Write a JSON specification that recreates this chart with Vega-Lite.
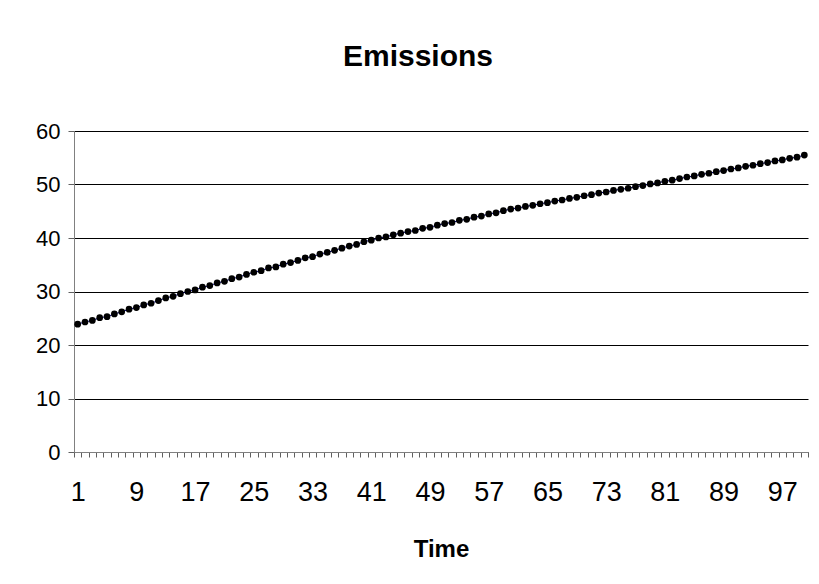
{
  "$schema": "https://vega.github.io/schema/vega-lite/v6.json",
  "width": 734,
  "height": 321,
  "autosize": {"type": "none"},
  "padding": {"left": 74, "top": 131, "right": 11, "bottom": 132},
  "background": "white",
  "title": {
    "text": "Emissions",
    "font": "Liberation Sans",
    "fontSize": 30,
    "fontWeight": "bold",
    "color": "black",
    "anchor": "middle",
    "baseline": "alphabetic",
    "offset": 24,
    "dx": -23
  },
  "config": {
    "view": {"stroke": null},
    "axis": {"labelFont": "Liberation Sans", "titleFont": "Liberation Sans", "labelColor": "black", "titleColor": "black"}
  },
  "data": {
    "values": [
      {"t": 1, "v": 23.9}, {"t": 2, "v": 24.3}, {"t": 3, "v": 24.6}, {"t": 4, "v": 25.1}, {"t": 5, "v": 25.3},
      {"t": 6, "v": 25.8}, {"t": 7, "v": 26.2}, {"t": 8, "v": 26.7}, {"t": 9, "v": 27.0}, {"t": 10, "v": 27.5},
      {"t": 11, "v": 27.8}, {"t": 12, "v": 28.3}, {"t": 13, "v": 28.8}, {"t": 14, "v": 29.1}, {"t": 15, "v": 29.6},
      {"t": 16, "v": 30.0}, {"t": 17, "v": 30.3}, {"t": 18, "v": 30.8}, {"t": 19, "v": 31.1}, {"t": 20, "v": 31.6},
      {"t": 21, "v": 31.9}, {"t": 22, "v": 32.4}, {"t": 23, "v": 32.7}, {"t": 24, "v": 33.2}, {"t": 25, "v": 33.6},
      {"t": 26, "v": 33.9}, {"t": 27, "v": 34.4}, {"t": 28, "v": 34.6}, {"t": 29, "v": 35.1}, {"t": 30, "v": 35.4},
      {"t": 31, "v": 35.8}, {"t": 32, "v": 36.3}, {"t": 33, "v": 36.5}, {"t": 34, "v": 37.0}, {"t": 35, "v": 37.3},
      {"t": 36, "v": 37.7}, {"t": 37, "v": 38.1}, {"t": 38, "v": 38.5}, {"t": 39, "v": 38.8}, {"t": 40, "v": 39.3},
      {"t": 41, "v": 39.6}, {"t": 42, "v": 40.0}, {"t": 43, "v": 40.2}, {"t": 44, "v": 40.6}, {"t": 45, "v": 40.9},
      {"t": 46, "v": 41.2}, {"t": 47, "v": 41.4}, {"t": 48, "v": 41.8}, {"t": 49, "v": 42.0}, {"t": 50, "v": 42.4},
      {"t": 51, "v": 42.7}, {"t": 52, "v": 42.9}, {"t": 53, "v": 43.3}, {"t": 54, "v": 43.5}, {"t": 55, "v": 43.9},
      {"t": 56, "v": 44.1}, {"t": 57, "v": 44.5}, {"t": 58, "v": 44.7}, {"t": 59, "v": 45.1}, {"t": 60, "v": 45.4},
      {"t": 61, "v": 45.6}, {"t": 62, "v": 45.9}, {"t": 63, "v": 46.1}, {"t": 64, "v": 46.4}, {"t": 65, "v": 46.6},
      {"t": 66, "v": 46.9}, {"t": 67, "v": 47.1}, {"t": 68, "v": 47.4}, {"t": 69, "v": 47.6}, {"t": 70, "v": 47.9},
      {"t": 71, "v": 48.1}, {"t": 72, "v": 48.4}, {"t": 73, "v": 48.6}, {"t": 74, "v": 48.9}, {"t": 75, "v": 49.1},
      {"t": 76, "v": 49.3}, {"t": 77, "v": 49.6}, {"t": 78, "v": 49.8}, {"t": 79, "v": 50.1}, {"t": 80, "v": 50.3},
      {"t": 81, "v": 50.6}, {"t": 82, "v": 50.8}, {"t": 83, "v": 51.1}, {"t": 84, "v": 51.4}, {"t": 85, "v": 51.6},
      {"t": 86, "v": 51.9}, {"t": 87, "v": 52.1}, {"t": 88, "v": 52.4}, {"t": 89, "v": 52.6}, {"t": 90, "v": 52.9},
      {"t": 91, "v": 53.1}, {"t": 92, "v": 53.4}, {"t": 93, "v": 53.6}, {"t": 94, "v": 53.9}, {"t": 95, "v": 54.1},
      {"t": 96, "v": 54.4}, {"t": 97, "v": 54.6}, {"t": 98, "v": 54.9}, {"t": 99, "v": 55.1}, {"t": 100, "v": 55.5}
    ]
  },
  "encoding": {
    "x": {
      "field": "t",
      "type": "ordinal",
      "bandPosition": 0.5,
      "scale": {"type": "band", "paddingInner": 0, "paddingOuter": 0},
      "axis": {
        "title": "Time",
        "titleFontSize": 24,
        "titleFontWeight": "bold",
        "titlePadding": 32,
        "labelAngle": 0,
        "labelFontSize": 27,
        "labelPadding": 22,
        "labelOverlap": false,
        "labelExpr": "(datum.value - 1) % 8 === 0 ? datum.label : ''",
        "tickBand": "extent",
        "tickSize": 5,
        "tickColor": "#606060",
        "domainColor": "#808080",
        "grid": false
      }
    },
    "y": {
      "field": "v",
      "type": "quantitative",
      "scale": {"domain": [0, 60], "nice": false},
      "axis": {
        "title": null,
        "values": [0, 10, 20, 30, 40, 50, 60],
        "labelFontSize": 22,
        "labelPadding": 8,
        "tickSize": 6,
        "tickColor": "#606060",
        "domainColor": "#808080",
        "grid": true,
        "gridColor": "black",
        "gridOpacity": 1,
        "gridWidth": 1
      }
    }
  },
  "layer": [
    {"mark": {"type": "line", "color": "#000080", "strokeWidth": 1}},
    {"mark": {"type": "point", "filled": true, "color": "black", "opacity": 1, "size": 45}}
  ]
}
